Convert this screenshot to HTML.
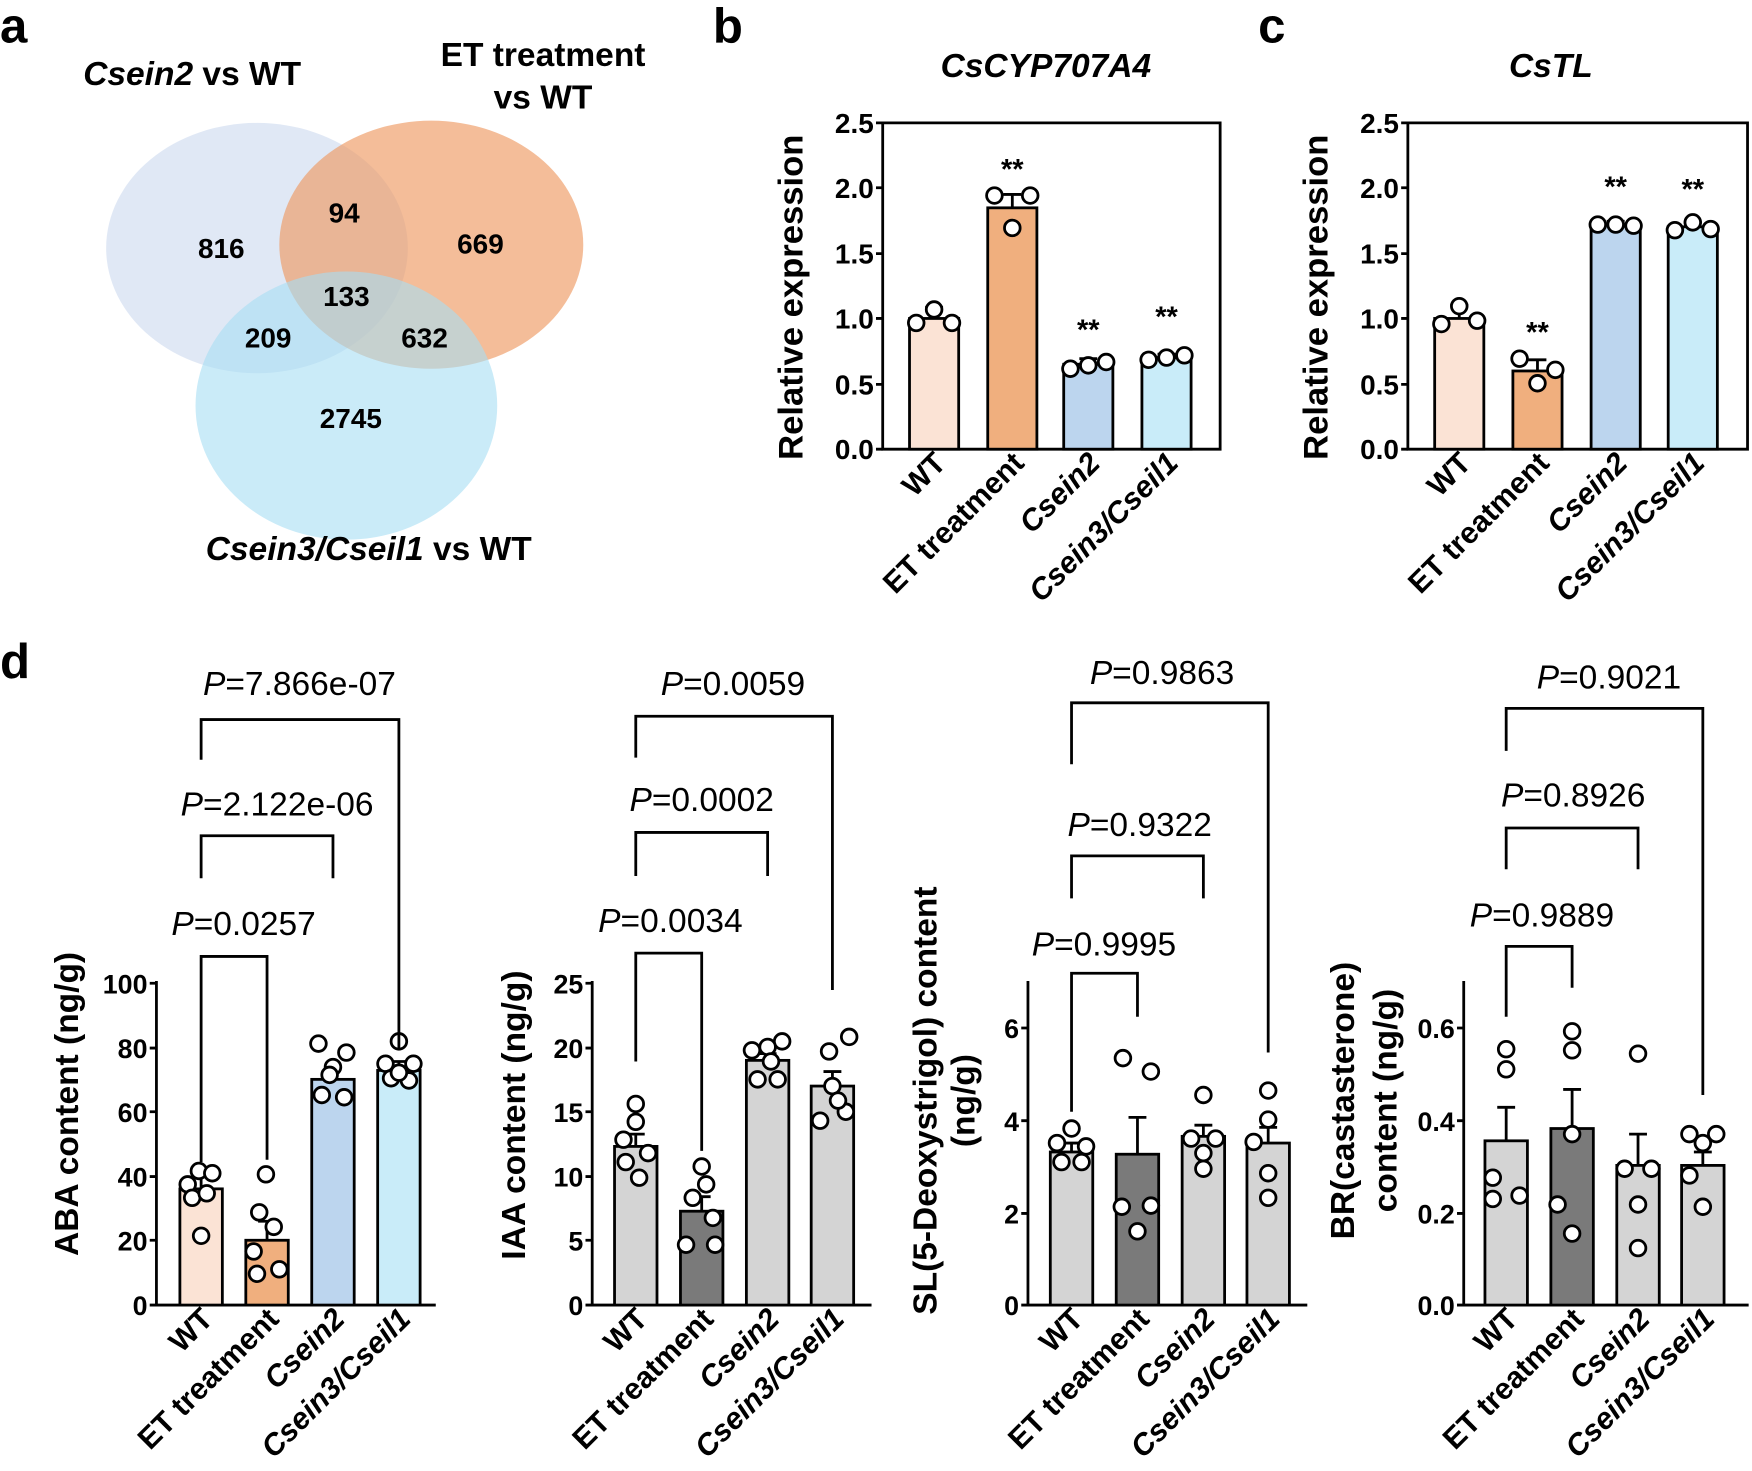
<!DOCTYPE html>
<html><head><meta charset="utf-8"><style>body{margin:0;background:#fff}svg{display:block}text{font-family:"Liberation Sans",Arial,sans-serif}</style></head><body>
<svg width="1752" height="1471" viewBox="0 0 1568 1316.5" xmlns="http://www.w3.org/2000/svg">
<g font-weight="bold" font-size="44"><text x="0" y="38">a</text><text x="638" y="38">b</text><text x="1126" y="38">c</text><text x="0" y="607">d</text></g>
<!-- Venn -->
<ellipse cx="230" cy="222" rx="135" ry="112" fill="#c6d6ec" fill-opacity="0.55"/>
<ellipse cx="386" cy="219" rx="136" ry="111" fill="#ee9a62" fill-opacity="0.65"/>
<ellipse cx="310" cy="363" rx="135" ry="120" fill="#a7def4" fill-opacity="0.6"/>
<g font-weight="bold" font-size="25" text-anchor="middle">
<text x="198" y="231">816</text><text x="308" y="199">94</text><text x="430" y="227">669</text><text x="310" y="274">133</text><text x="240" y="311">209</text><text x="380" y="311">632</text><text x="314" y="383">2745</text></g>
<g font-weight="bold" font-size="30" text-anchor="middle">
<text x="172" y="76"><tspan font-style="italic">Csein2</tspan> vs WT</text>
<text x="486" y="59">ET treatment</text><text x="486" y="97">vs WT</text>
<text x="330" y="501"><tspan font-style="italic">Csein3/Cseil1</tspan> vs WT</text></g>
<!-- panel b, c frames -->
<g stroke="#000" stroke-width="2.5" fill="none">
<path d="M790 110V402H1092V110Z"/>
<path d="M1260 110V402H1564V110Z"/>
</g>
<g font-weight="bold" font-size="30" font-style="italic" text-anchor="middle"><text x="936" y="69">CsCYP707A4</text><text x="1388" y="69">CsTL</text></g>
<g font-weight="bold" font-size="25" text-anchor="end">
<text x="782" y="411">0.0</text><text x="782" y="353">0.5</text><text x="782" y="294">1.0</text><text x="782" y="236">1.5</text><text x="782" y="177">2.0</text><text x="782" y="119">2.5</text>
<text x="1252" y="411">0.0</text><text x="1252" y="353">0.5</text><text x="1252" y="294">1.0</text><text x="1252" y="236">1.5</text><text x="1252" y="177">2.0</text><text x="1252" y="119">2.5</text></g>
<g stroke="#000" stroke-width="2.5"><path d="M784 402h6M784 344h6M784 285h6M784 227h6M784 168h6M784 110h6M1254 402h6M1254 344h6M1254 285h6M1254 227h6M1254 168h6M1254 110h6"/></g>
<g font-weight="bold" font-size="31" text-anchor="middle"><text transform="translate(718,266) rotate(-90)">Relative expression</text><text transform="translate(1188,266) rotate(-90)">Relative expression</text></g>
<g stroke="#000" stroke-width="2.5">
<rect x="814" y="285" width="44" height="117" fill="#fbe3d5"/><rect x="884" y="186" width="44" height="216" fill="#f0af7e"/><rect x="952" y="326" width="44" height="76" fill="#bcd5ee"/><rect x="1022" y="320" width="44" height="82" fill="#c9ecf9"/>
<rect x="1284" y="285" width="44" height="117" fill="#fbe3d5"/><rect x="1354" y="332" width="44" height="70" fill="#f0af7e"/><rect x="1424" y="201" width="44" height="201" fill="#bcd5ee"/><rect x="1493" y="203" width="44" height="199" fill="#c9ecf9"/>
<path d="M836 285v-10m-8 0h16M906 186v-12m-8 0h16M974 326v-5m-8 0h16M1044 320v-3m-8 0h16M1306 285v-12m-8 0h16M1376 332v-10m-8 0h16M1446 201v-3m-8 0h16M1515 203v-4m-8 0h16" fill="none"/>
</g>
<g stroke="#000" stroke-width="2.5" fill="#fff">
<circle cx="820" cy="289" r="7"/><circle cx="836" cy="277" r="7"/><circle cx="852" cy="289" r="7"/>
<circle cx="890" cy="175" r="7"/><circle cx="906" cy="204" r="7"/><circle cx="922" cy="175" r="7"/>
<circle cx="958" cy="330" r="7"/><circle cx="974" cy="327" r="7"/><circle cx="990" cy="324" r="7"/>
<circle cx="1028" cy="322" r="7"/><circle cx="1044" cy="320" r="7"/><circle cx="1060" cy="318" r="7"/>
<circle cx="1290" cy="290" r="7"/><circle cx="1306" cy="274" r="7"/><circle cx="1322" cy="287" r="7"/>
<circle cx="1360" cy="321" r="7"/><circle cx="1376" cy="343" r="7"/><circle cx="1392" cy="331" r="7"/>
<circle cx="1430" cy="201" r="7"/><circle cx="1446" cy="201" r="7"/><circle cx="1462" cy="202" r="7"/>
<circle cx="1499" cy="206" r="7"/><circle cx="1515" cy="199" r="7"/><circle cx="1531" cy="205" r="7"/>
</g>
<g font-weight="bold" font-size="26" text-anchor="middle"><text x="906" y="160">**</text><text x="974" y="304">**</text><text x="1044" y="292">**</text><text x="1376" y="306">**</text><text x="1446" y="176">**</text><text x="1515" y="178">**</text></g>
<g font-weight="bold" font-size="27" text-anchor="end">
<text transform="translate(848,416) rotate(-45)">WT</text><text transform="translate(918,416) rotate(-45)">ET treatment</text><text transform="translate(986,416) rotate(-45)" font-style="italic">Csein2</text><text transform="translate(1056,416) rotate(-45)" font-style="italic">Csein3/Cseil1</text>
<text transform="translate(1318,416) rotate(-45)">WT</text><text transform="translate(1388,416) rotate(-45)">ET treatment</text><text transform="translate(1458,416) rotate(-45)" font-style="italic">Csein2</text><text transform="translate(1527,416) rotate(-45)" font-style="italic">Csein3/Cseil1</text>
<text transform="translate(192,1182) rotate(-45)">WT</text><text transform="translate(251,1182) rotate(-45)">ET treatment</text><text transform="translate(310,1182) rotate(-45)" font-style="italic">Csein2</text><text transform="translate(369,1182) rotate(-45)" font-style="italic">Csein3/Cseil1</text>
<text transform="translate(581,1182) rotate(-45)">WT</text><text transform="translate(640,1182) rotate(-45)">ET treatment</text><text transform="translate(699,1182) rotate(-45)" font-style="italic">Csein2</text><text transform="translate(757,1182) rotate(-45)" font-style="italic">Csein3/Cseil1</text>
<text transform="translate(971,1182) rotate(-45)">WT</text><text transform="translate(1030,1182) rotate(-45)">ET treatment</text><text transform="translate(1089,1182) rotate(-45)" font-style="italic">Csein2</text><text transform="translate(1147,1182) rotate(-45)" font-style="italic">Csein3/Cseil1</text>
<text transform="translate(1360,1182) rotate(-45)">WT</text><text transform="translate(1419,1182) rotate(-45)">ET treatment</text><text transform="translate(1478,1182) rotate(-45)" font-style="italic">Csein2</text><text transform="translate(1536,1182) rotate(-45)" font-style="italic">Csein3/Cseil1</text>
</g>
<!-- panel d axes -->
<g stroke="#000" stroke-width="2.5" fill="none">
<path d="M140 878V1168H390M134 1168h6M134 1110h6M134 1053h6M134 995h6M134 938h6M134 880h6"/>
<path d="M530 878V1168H780M524 1168h6M524 1110h6M524 1053h6M524 995h6M524 938h6M524 880h6"/>
<path d="M920 878V1168H1170M914 1168h6M914 1086h6M914 1003h6M914 920h6"/>
<path d="M1310 878V1168H1565M1304 1168h6M1304 1086h6M1304 1003h6M1304 920h6"/>
</g>
<g font-weight="bold" font-size="24" text-anchor="end">
<text x="132" y="1177">0</text><text x="132" y="1119">20</text><text x="132" y="1062">40</text><text x="132" y="1004">60</text><text x="132" y="947">80</text><text x="132" y="889">100</text>
<text x="522" y="1177">0</text><text x="522" y="1119">5</text><text x="522" y="1062">10</text><text x="522" y="1004">15</text><text x="522" y="947">20</text><text x="522" y="889">25</text>
<text x="912" y="1177">0</text><text x="912" y="1095">2</text><text x="912" y="1012">4</text><text x="912" y="929">6</text>
<text x="1302" y="1177">0.0</text><text x="1302" y="1095">0.2</text><text x="1302" y="1012">0.4</text><text x="1302" y="929">0.6</text>
</g>
<g font-weight="bold" font-size="30" text-anchor="middle">
<text transform="translate(70,988) rotate(-90)">ABA content (ng/g)</text>
<text transform="translate(470,998) rotate(-90)">IAA content (ng/g)</text>
<text transform="translate(838,985) rotate(-90)">SL(5-Deoxystrigol) content</text>
<text transform="translate(872,985) rotate(-90)">(ng/g)</text>
<text transform="translate(1212,985) rotate(-90)">BR(castasterone)</text>
<text transform="translate(1250,985) rotate(-90)">content (ng/g)</text>
</g>
<g stroke="#000" stroke-width="2.5">
<rect x="161" y="1064" width="38" height="104" fill="#fbe3d5"/><rect x="220" y="1110" width="38" height="58" fill="#f0af7e"/><rect x="279" y="966" width="38" height="202" fill="#bcd5ee"/><rect x="338" y="958" width="38" height="210" fill="#c9ecf9"/>
<rect x="550" y="1026" width="38" height="142" fill="#d4d4d4"/><rect x="609" y="1084" width="38" height="84" fill="#7a7a7a"/><rect x="668" y="949" width="38" height="219" fill="#d4d4d4"/><rect x="726" y="972" width="38" height="196" fill="#d4d4d4"/>
<rect x="940" y="1031" width="38" height="137" fill="#d4d4d4"/><rect x="999" y="1033" width="38" height="135" fill="#7a7a7a"/><rect x="1058" y="1017" width="38" height="151" fill="#d4d4d4"/><rect x="1116" y="1023" width="38" height="145" fill="#d4d4d4"/>
<rect x="1329" y="1021" width="38" height="147" fill="#d4d4d4"/><rect x="1388" y="1010" width="38" height="158" fill="#7a7a7a"/><rect x="1447" y="1043" width="38" height="125" fill="#d4d4d4"/><rect x="1505" y="1043" width="38" height="125" fill="#d4d4d4"/>
<path fill="none" d="M180 1064v-12m-8 0h16M239 1110v-17m-8 0h16M298 966v-11m-8 0h16M357 958v-8m-8 0h16M569 1026v-11m-8 0h16M628 1084v-13m-8 0h16M687 949v-6m-8 0h16M745 972v-13m-8 0h16M959 1031v-8m-8 0h16M1018 1033v-33m-8 0h16M1077 1017v-10m-8 0h16M1135 1023v-14m-8 0h16M1348 1021v-30m-8 0h16M1407 1010v-35m-8 0h16M1466 1043v-28m-8 0h16M1524 1043v-12m-8 0h16"/>
</g>
<g stroke="#000" stroke-width="2.5" fill="#fff">
<circle cx="168" cy="1060" r="7"/><circle cx="178" cy="1048" r="7"/><circle cx="190" cy="1050" r="7"/><circle cx="172" cy="1072" r="7"/><circle cx="185" cy="1068" r="7"/><circle cx="180" cy="1106" r="7"/>
<circle cx="238" cy="1051" r="7"/><circle cx="232" cy="1085" r="7"/><circle cx="245" cy="1098" r="7"/><circle cx="227" cy="1120" r="7"/><circle cx="250" cy="1136" r="7"/><circle cx="230" cy="1140" r="7"/>
<circle cx="285" cy="934" r="7"/><circle cx="310" cy="942" r="7"/><circle cx="298" cy="955" r="7"/><circle cx="288" cy="980" r="7"/><circle cx="308" cy="982" r="7"/><circle cx="295" cy="962" r="7"/>
<circle cx="357" cy="932" r="7"/><circle cx="345" cy="952" r="7"/><circle cx="370" cy="952" r="7"/><circle cx="350" cy="965" r="7"/><circle cx="366" cy="967" r="7"/><circle cx="357" cy="960" r="7"/>
<circle cx="569" cy="988" r="7"/><circle cx="569" cy="1004" r="7"/><circle cx="558" cy="1020" r="7"/><circle cx="580" cy="1032" r="7"/><circle cx="560" cy="1040" r="7"/><circle cx="572" cy="1054" r="7"/>
<circle cx="628" cy="1044" r="7"/><circle cx="632" cy="1060" r="7"/><circle cx="620" cy="1072" r="7"/><circle cx="638" cy="1090" r="7"/><circle cx="614" cy="1114" r="7"/><circle cx="640" cy="1114" r="7"/>
<circle cx="673" cy="940" r="7"/><circle cx="700" cy="932" r="7"/><circle cx="687" cy="937" r="7"/><circle cx="678" cy="966" r="7"/><circle cx="696" cy="966" r="7"/><circle cx="690" cy="950" r="7"/>
<circle cx="760" cy="928" r="7"/><circle cx="742" cy="941" r="7"/><circle cx="734" cy="1003" r="7"/><circle cx="757" cy="995" r="7"/><circle cx="745" cy="972" r="7"/><circle cx="750" cy="985" r="7"/>
<circle cx="959" cy="1010" r="7"/><circle cx="946" cy="1023" r="7"/><circle cx="972" cy="1026" r="7"/><circle cx="950" cy="1040" r="7"/><circle cx="968" cy="1040" r="7"/>
<circle cx="1005" cy="947" r="7"/><circle cx="1030" cy="959" r="7"/><circle cx="1004" cy="1080" r="7"/><circle cx="1030" cy="1079" r="7"/><circle cx="1018" cy="1102" r="7"/>
<circle cx="1077" cy="980" r="7"/><circle cx="1066" cy="1019" r="7"/><circle cx="1088" cy="1019" r="7"/><circle cx="1077" cy="1032" r="7"/><circle cx="1077" cy="1046" r="7"/>
<circle cx="1135" cy="976" r="7"/><circle cx="1135" cy="1002" r="7"/><circle cx="1122" cy="1022" r="7"/><circle cx="1135" cy="1050" r="7"/><circle cx="1135" cy="1072" r="7"/>
<circle cx="1348" cy="939" r="7"/><circle cx="1348" cy="957" r="7"/><circle cx="1336" cy="1054" r="7"/><circle cx="1360" cy="1070" r="7"/><circle cx="1336" cy="1073" r="7"/>
<circle cx="1407" cy="923" r="7"/><circle cx="1407" cy="940" r="7"/><circle cx="1407" cy="1015" r="7"/><circle cx="1394" cy="1078" r="7"/><circle cx="1407" cy="1104" r="7"/>
<circle cx="1466" cy="943" r="7"/><circle cx="1454" cy="1046" r="7"/><circle cx="1478" cy="1046" r="7"/><circle cx="1466" cy="1078" r="7"/><circle cx="1466" cy="1117" r="7"/>
<circle cx="1512" cy="1015" r="7"/><circle cx="1536" cy="1015" r="7"/><circle cx="1524" cy="1023" r="7"/><circle cx="1512" cy="1052" r="7"/><circle cx="1524" cy="1080" r="7"/>
</g>
<!-- brackets -->
<g stroke="#000" stroke-width="2.5" fill="none">
<path d="M180 1040V856H239V1038"/><path d="M180 786V748H298V786"/><path d="M180 680V644H357V940"/>
<path d="M569 950V853H628V1030"/><path d="M569 784V745H687V784"/><path d="M569 678V641H745V886"/>
<path d="M959 995V871H1018V910"/><path d="M959 804V766H1077V804"/><path d="M959 684V629H1135V942"/>
<path d="M1348 910V847H1407V884"/><path d="M1348 778V741H1466V778"/><path d="M1348 672V634H1524V980"/>
</g>
<g font-size="30" text-anchor="middle">
<text x="218" y="837"><tspan font-style="italic">P</tspan>=0.0257</text><text x="248" y="730"><tspan font-style="italic">P</tspan>=2.122e-06</text><text x="268" y="622"><tspan font-style="italic">P</tspan>=7.866e-07</text>
<text x="600" y="834"><tspan font-style="italic">P</tspan>=0.0034</text><text x="628" y="726"><tspan font-style="italic">P</tspan>=0.0002</text><text x="656" y="622"><tspan font-style="italic">P</tspan>=0.0059</text>
<text x="988" y="855"><tspan font-style="italic">P</tspan>=0.9995</text><text x="1020" y="748"><tspan font-style="italic">P</tspan>=0.9322</text><text x="1040" y="612"><tspan font-style="italic">P</tspan>=0.9863</text>
<text x="1380" y="829"><tspan font-style="italic">P</tspan>=0.9889</text><text x="1408" y="722"><tspan font-style="italic">P</tspan>=0.8926</text><text x="1440" y="616"><tspan font-style="italic">P</tspan>=0.9021</text>
</g>
</svg>
</body></html>
